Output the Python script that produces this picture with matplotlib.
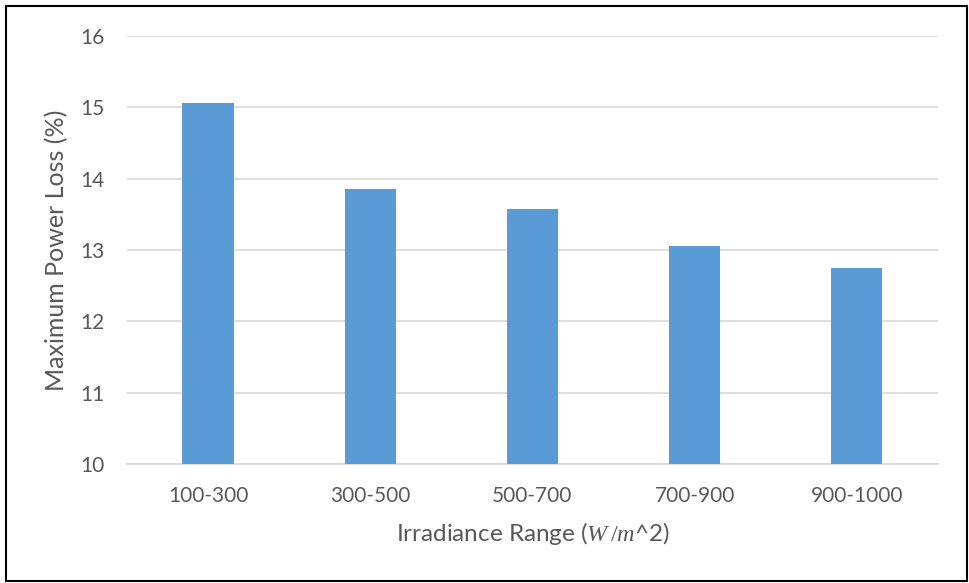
import matplotlib
matplotlib.use("Agg")
import matplotlib.pyplot as plt
from matplotlib.patches import Rectangle

categories = ["100-300", "300-500", "500-700", "700-900", "900-1000"]
power_loss = [15.06, 13.86, 13.58, 13.06, 12.75]
y_ticks = [10, 11, 12, 13, 14, 15, 16]

plt.rcParams["font.family"] = ["Lato", "DejaVu Sans"]
plt.rcParams["mathtext.fontset"] = "custom"
plt.rcParams["mathtext.it"] = "Liberation Serif:italic"
plt.rcParams["mathtext.rm"] = "Liberation Serif"

text_color = "#595959"

fig = plt.figure(figsize=(9.69, 5.83), dpi=100)
ax = fig.add_axes([0.131, 0.204, 0.837, 0.734])

x = range(len(categories))
ax.bar(x, power_loss, width=0.315, color="#5B9BD5", zorder=3)

ax.set_ylim(10, 16)
ax.set_xlim(-0.5, len(categories) - 0.5)
ax.set_yticks(y_ticks)
ax.set_xticks(list(x))
ax.set_xticklabels(categories)
ax.yaxis.grid(True, color="#D9D9D9", linewidth=1.2, zorder=0)
ax.tick_params(axis="both", length=0, colors=text_color, labelsize=15)
ax.tick_params(axis="y", pad=16)
ax.tick_params(axis="x", pad=16)
for s in ["top", "right", "left"]:
    ax.spines[s].set_visible(False)
ax.spines["bottom"].set_color("#D9D9D9")
ax.spines["bottom"].set_linewidth(1.2)

ax.set_ylabel("Maximum Power Loss (%)", color=text_color, fontsize=18, labelpad=9)
ax.set_xlabel(r"Irradiance Range ($W\,/m$^2)", color=text_color, fontsize=17.5, labelpad=10)

# figure frame
fig.patches.append(Rectangle((0.0065, 0.003), 0.991, 0.986, transform=fig.transFigure,
                             fill=False, edgecolor="black", linewidth=1.5))

fig.savefig("out.png", dpi=100)
